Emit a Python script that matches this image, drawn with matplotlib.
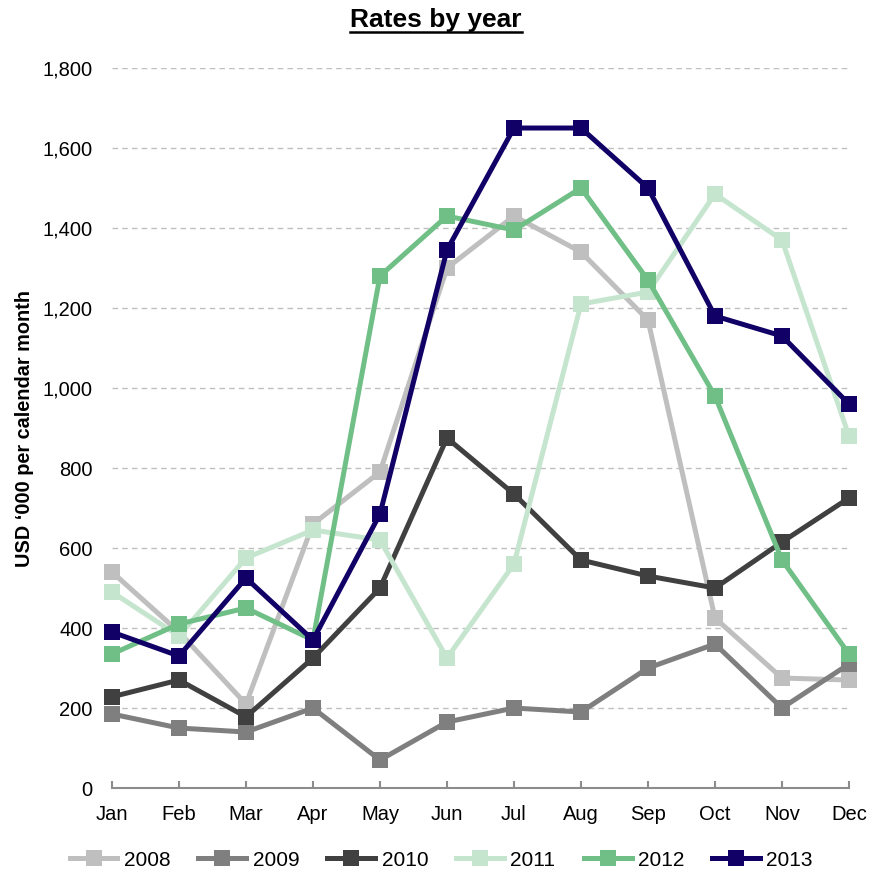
import matplotlib.pyplot as plt
from matplotlib.lines import Line2D
from matplotlib.ticker import FuncFormatter

plt.rcParams['font.family'] = ['Liberation Sans', 'DejaVu Sans']

# --- Data ---
months = ['Jan', 'Feb', 'Mar', 'Apr', 'May', 'Jun',
          'Jul', 'Aug', 'Sep', 'Oct', 'Nov', 'Dec']

rates_2008 = [540, 390, 210, 660, 790, 1300, 1430, 1340, 1170, 425, 275, 270]
rates_2009 = [185, 150, 140, 200, 70, 165, 200, 190, 300, 360, 200, 310]
rates_2010 = [228, 270, 178, 325, 500, 875, 735, 570, 530, 500, 615, 725]
rates_2011 = [490, 380, 575, 645, 620, 325, 560, 1210, 1240, 1485, 1370, 880]
rates_2012 = [335, 410, 450, 370, 1280, 1430, 1395, 1500, 1270, 980, 570, 335]
rates_2013 = [390, 330, 525, 370, 685, 1345, 1650, 1650, 1500, 1180, 1130, 960]

years = ['2008', '2009', '2010', '2011', '2012', '2013']
series = [rates_2008, rates_2009, rates_2010, rates_2011, rates_2012, rates_2013]
colors = ['#BFBFBF', '#7F7F7F', '#404040', '#C6E5CF', '#6FBF86', '#110066']

# --- Plot ---
fig = plt.figure(figsize=(8.72, 8.72), dpi=100)
ax = fig.add_axes([0.1284, 0.0963, 0.8452, 0.8257])

x = list(range(len(months)))
for year, values, color in zip(years, series, colors):
    ax.plot(x, values, color=color, linewidth=3.6, marker='s',
            markersize=11, markeredgewidth=0, label=year, clip_on=False)

ax.set_xlim(0, 11)
ax.set_ylim(0, 1800)
ax.set_xticks(x)
ax.set_xticklabels(months)
ax.set_yticks(range(0, 1801, 200))
ax.yaxis.set_major_formatter(FuncFormatter(lambda v, _: f'{int(v):,}'))

ax.grid(axis='y', color='#BFBFBF', linestyle=(0, (4, 3)), linewidth=1)
ax.set_axisbelow(True)
for side in ['top', 'right', 'left']:
    ax.spines[side].set_visible(False)
ax.spines['bottom'].set_color('#8C8C8C')
ax.spines['bottom'].set_linewidth(1.5)
ax.tick_params(axis='x', direction='in', length=5, width=1.5, color='#8C8C8C',
               labelsize=14.5, pad=12)
ax.tick_params(axis='y', length=0, labelsize=14.5, pad=14)

ax.set_ylabel("USD \u2018000 per calendar month", fontsize=14.3,
              fontweight='bold', labelpad=6)

# Title with underline
title = fig.text(0.5, 1 - 20 / 872, 'Rates by year', ha='center', va='center',
                 fontsize=19, fontweight='bold')
fig.canvas.draw()
bb = title.get_window_extent().transformed(fig.transFigure.inverted())
fig.add_artist(Line2D([bb.x0, bb.x1], [1 - 32 / 872] * 2, color='black',
                      linewidth=1.8, transform=fig.transFigure))

ax.legend(loc='center', bbox_to_anchor=(0.506, 1 - 860 / 872),
          bbox_transform=fig.transFigure, ncol=6, frameon=False, fontsize=15,
          handlelength=2.3, handletextpad=0.3, columnspacing=1.35,
          borderaxespad=0)

fig.savefig('out.png', dpi=100)
